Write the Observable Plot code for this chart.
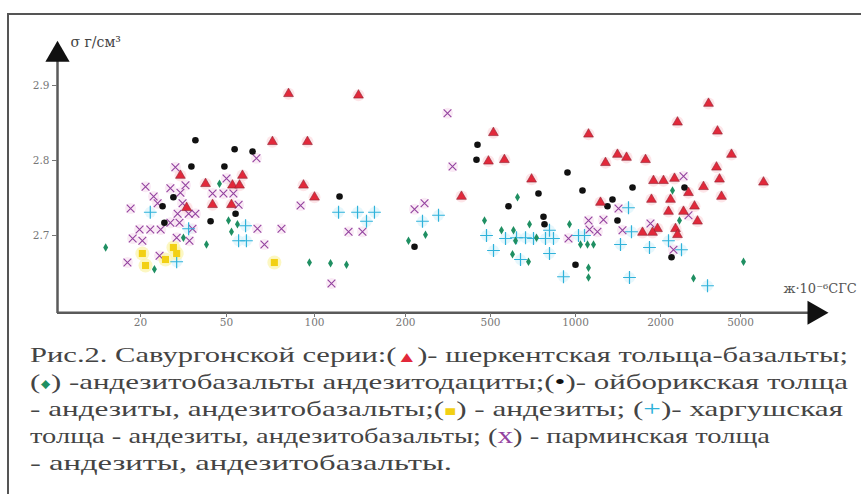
<!DOCTYPE html>
<html><head><meta charset="utf-8">
<script src="https://cdn.jsdelivr.net/npm/d3@7"></script>
<script src="https://cdn.jsdelivr.net/npm/@observablehq/plot@0.6"></script>
<style>
html,body{margin:0;padding:0;background:#fff;width:861px;height:494px;overflow:hidden;}
#wrap{position:relative;width:861px;height:494px;}
#border{position:absolute;left:7px;top:13px;width:900px;height:600px;border-top:2px solid #555;border-left:2px solid #555;pointer-events:none;}
#chart svg,#caption svg{display:block;}
</style></head><body>
<div id="wrap"><div id="chart"></div><div id="caption"></div><div id="border"></div></div>
<script>
// ---- axis ticks ----
const xTicks = [20, 50, 100, 200, 500, 1000, 2000, 5000];
const xTickLabels = ["20", "50", "100", "200", "500", "1000", "2000", "5000"];
const yTicks = [2.7, 2.8, 2.9];
const yTickLabels = ["2.7", "2.8", "2.9"];
const yLabel = "σ г/см³";
const xLabel = "ж·10⁻⁶СГС";
const axisOrigin = {x: 8.26, y: 2.597};
const axisEnds = {x: 11670, y: 2.941};

// ---- series: [æ·10^-6 CGS, σ g/cm3] ----
// шеркентская толща - базальты (red triangles)
const sherkent = [[30.6,2.780],[40.0,2.769],[52.4,2.767],[55.4,2.767],[56.7,2.780],[32.7,2.737],[43.1,2.741],[52.0,2.741],
[71.8,2.825],[81.5,2.889],[94.6,2.825],[91.7,2.767],[100,2.751],[139.8,2.887],[365.7,2.752],[512,2.837],[489,2.799],[560,2.801],
[699,2.775],[1112,2.835],[1226,2.744],[1277,2.797],[1408,2.808],[1516,2.804],[1770,2.801],[2430,2.851],[3466,2.876],[3842,2.839],
[4510,2.808],[3798,2.791],[3931,2.775],[6507,2.771],[1889,2.773],[2070,2.773],[2348,2.776],[3273,2.765],[2756,2.757],[4022,2.752],
[1858,2.748],[2243,2.748],[2952,2.739],[2192,2.732],[2603,2.732],[3056,2.719],[1952,2.709],[1874,2.704],[2375,2.709],[1727,2.704],[2430,2.701]];
// андезитобазальты, андезитодациты (green diamonds)
const andesitodacite = [[13.8,2.684],[23.2,2.655],[31.6,2.697],[40.4,2.688],[46.4,2.769],[50.8,2.720],[54.5,2.715],[52.0,2.705],
[96.1,2.664],[113,2.663],[127.6,2.661],[206.6,2.693],[248.1,2.701],[468.7,2.720],[623.2,2.751],[546.9,2.707],[603.1,2.707],[613.1,2.693],
[687.3,2.715],[727.6,2.697],[598.3,2.675],[681.7,2.665],[952.2,2.715],[1041.6,2.688],[1102.8,2.688],[1158.1,2.688],[1111.8,2.657],
[1111.8,2.644],[2295,2.760],[2486,2.720],[5175,2.665],[2919,2.643]];
// ойборикская толща (black dots)
const oiborik = [[35.9,2.827],[53.3,2.815],[61.4,2.812],[34.4,2.792],[48.9,2.792],[28.4,2.751],[25.3,2.739],[53.7,2.729],[25.8,2.717],
[42.2,2.719],[121.0,2.752],[220.4,2.685],[434.6,2.821],[429.9,2.801],[579,2.739],[739.5,2.756],[936.8,2.784],[1058.7,2.760],[770.3,2.725],
[776.6,2.715],[1000,2.661],[1352,2.748],[1298,2.739],[1408,2.720],[1592,2.764],[2633,2.764],[2269,2.671]];
// андезиты (yellow squares)
const andesite = [[20.4,2.676],[21.1,2.660],[26.1,2.668],[28.4,2.684],[29.4,2.676],[72.9,2.664]];
// харгушская толща (cyan plus)
const khargush = [[22.2,2.731],[29.4,2.665],[33.4,2.709],[58.1,2.713],[55.0,2.693],[58.5,2.693],[120.1,2.731],[138.8,2.731],[157.9,2.731],
[148.6,2.719],[240.2,2.719],[285.5,2.727],[478.9,2.700],[565.1,2.696],[618.1,2.697],[665.3,2.697],[710,2.696],[782.9,2.696],[835.7,2.696],
[808.9,2.707],[1024.8,2.700],[1076.2,2.700],[512.4,2.680],[638.6,2.668],[808.9,2.676],[906.7,2.645],[1540.6,2.737],[1578.7,2.705],
[1443.3,2.688],[1828.3,2.684],[2192,2.693],[2544,2.681],[1553.2,2.644],[3427,2.633]];
// парминская толща (purple x)
const parmin = [[29.0,2.791],[21.1,2.765],[27.5,2.763],[32.3,2.767],[23.0,2.752],[30.6,2.757],[43.1,2.756],[48.4,2.756],[52.8,2.756],
[50.0,2.776],[18.0,2.736],[24.0,2.743],[31.3,2.743],[55.0,2.741],[29.7,2.729],[33.4,2.729],[35.9,2.729],[27.5,2.717],[30.3,2.717],
[19.8,2.708],[22.2,2.708],[24.8,2.708],[34.8,2.709],[63.8,2.709],[77.1,2.709],[18.4,2.696],[20.4,2.693],[29.4,2.697],[33.7,2.693],
[67.4,2.688],[24.5,2.673],[17.4,2.664],[63.3,2.803],[89.6,2.740],[129.6,2.705],[144.1,2.705],[113.8,2.636],[314.5,2.863],[332,2.792],
[245.5,2.743],[220.4,2.735],[944.5,2.696],[1112,2.720],[1256,2.721],[1121,2.708],[1196,2.705],[1420,2.736],[1467,2.707],[1843,2.716],
[2603,2.779],[2756,2.727],[2321,2.681]];

const colors = {tri: "#e2283a", dia: "#1f8f62", dot: "#111111", sq: "#f2d014", plus: "#2fb2da", x: "#93429f"};

// caption
const captionLines = [
  [["Рис.2. Савургонской серии:(", null], ["▲", "tri"], [")- шеркентская тольща-базальты;", null]],
  [["(", null], ["♦", "dia"], [") -андезитобазальты андезитодациты;(", null], ["•", "dot"], [")- ойборикская толща", null]],
  [["- андезиты, андезитобазальты;(", null], ["■", "sq"], [") - андезиты; (", null], ["+", "plus"], [")- харгушская", null]],
  [["толща - андезиты, андезитобазальты; (", null], ["х", "x"], [") - парминская толща", null]],
  [["- андезиты, андезитобазальты.", null]]
];
const captionWidths = [818, 818, 813, 740, 422];

const X = d => d[0], Y = d => d[1];
const xRange = [140, 226, 314, 405, 490, 575, 660, 740];

const chart = Plot.plot({
  width: 861, height: 340,
  marginLeft: 57, marginRight: 49, marginTop: 58, marginBottom: 27,
  style: {background: "transparent", fontFamily: "DejaVu Serif"},
  x: {type: "log", domain: xTicks, range: xRange, axis: null},
  y: {type: "linear", domain: [2.7, 2.9], range: [235, 85], axis: null},
  marks: [
    // halos (jpeg-like bleed)
    Plot.dot(parmin, {x: X, y: Y, r: 5.5, fill: "#f7dcef", fillOpacity: 0.6}),
    Plot.dot(khargush, {x: X, y: Y, r: 5.5, fill: "#d6f1fa", fillOpacity: 0.6}),
    Plot.dot(sherkent, {x: X, y: Y, r: 6, fill: "#fbd3d8", fillOpacity: 0.6}),
    Plot.dot(andesite, {x: X, y: Y, r: 7, fill: "#fbf3a8", fillOpacity: 0.7}),
    // axes lines
    Plot.ruleY([axisOrigin.y], {stroke: "#5a5a5a", strokeWidth: 2.5}),
    Plot.ruleX([axisOrigin.x], {stroke: "#5a5a5a", strokeWidth: 2.5}),
    Plot.dot([{x: axisEnds.x, y: axisOrigin.y}], {x: "x", y: "y", symbol: "triangle", r: 9, rotate: 90, fill: "#111"}),
    Plot.dot([{x: axisOrigin.x, y: axisEnds.y}], {x: "x", y: "y", symbol: "triangle", r: 9, fill: "#111"}),
    Plot.axisX(xTicks, {anchor: "bottom", label: null, tickSize: 4, tickFormat: () => "", color: "#777"}),
    Plot.text(xTicks, {x: d => d, frameAnchor: "bottom", dy: 12, text: (d, i) => xTickLabels[i],
      fontSize: 10.5, fill: "#777", fontFamily: "DejaVu Serif"}),
    Plot.axisY(yTicks, {anchor: "left", label: null, tickSize: 5, tickPadding: 3, fontSize: 10.5, color: "#777", fontFamily: "DejaVu Serif",
      tickFormat: d => yTickLabels[yTicks.indexOf(d)]}),
    Plot.text([yLabel], {frameAnchor: "top-left", dx: 13, dy: -21, textAnchor: "start", fontSize: 14, fill: "#444", fontFamily: "DejaVu Serif"}),
    Plot.text([xLabel], {frameAnchor: "bottom-right", dx: -29, dy: -21, textAnchor: "start", fontSize: 13, fill: "#555", fontFamily: "DejaVu Serif"}),
    // data
    Plot.dot(parmin, {x: X, y: Y, symbol: "times", r: 3.6, stroke: colors.x, strokeWidth: 1.1}),
    Plot.dot(khargush, {x: X, y: Y, symbol: "plus", r: 4.2, stroke: colors.plus, strokeWidth: 1.2}),
    Plot.dot(andesite, {x: X, y: Y, symbol: "square", r: 4, fill: colors.sq}),
    Plot.dot(andesitodacite, {x: X, y: Y, symbol: "diamond", r: 2.6, fill: colors.dia}),
    Plot.dot(oiborik, {x: X, y: Y, r: 3.3, fill: colors.dot}),
    Plot.dot(sherkent, {x: X, y: Y, symbol: "triangle", r: 3.6, fill: colors.tri, stroke: "#8c2232", strokeWidth: 0.6})
  ]
});
document.getElementById("chart").appendChild(chart);

// caption below the chart
const cap = d3.select("#caption").append("svg").attr("width", 861).attr("height", 154);
const symSize = {tri: "15px", dia: "15px", dot: "22px", sq: "14px", plus: "22px", x: "24px"};
captionLines.forEach((parts, i) => {
  const t = cap.append("text")
    .attr("x", 30).attr("y", 22 + i * 27)
    .attr("textLength", captionWidths[i]).attr("lengthAdjust", "spacingAndGlyphs")
    .attr("font-family", "Liberation Serif").attr("font-size", 22).attr("fill", "#444");
  parts.forEach(([s, k]) => {
    const ts = t.append("tspan").text(s);
    if (k) ts.attr("fill", colors[k]).attr("font-size", symSize[k]);
  });
});
</script></body></html>
